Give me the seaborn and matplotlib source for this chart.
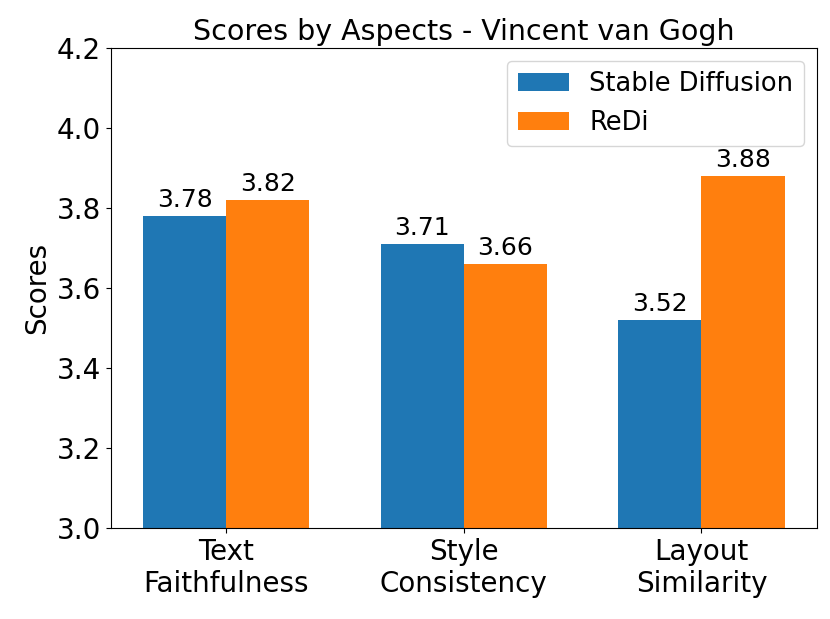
import pandas as pd
import seaborn as sns
import matplotlib.pyplot as plt

# data
aspects = ['Text\nFaithfulness', 'Style\nConsistency', 'Layout\nSimilarity']
sd_scores = [3.78, 3.71, 3.52]
redi_scores = [3.82, 3.66, 3.88]
methods = ['Stable Diffusion', 'ReDi']

df = pd.DataFrame({
    'aspect': aspects * 2,
    'score': sd_scores + redi_scores,
    'method': [methods[0]] * 3 + [methods[1]] * 3,
})

fig = plt.figure(figsize=(8.3, 6.19), dpi=100)
ax = fig.add_axes([0.1337, 0.147, 0.8503, 0.7755])

sns.barplot(data=df, x='aspect', y='score', hue='method',
            palette=['#1f77b4', '#ff7f0e'], saturation=1, width=0.7,
            errorbar=None, ax=ax)

for c in ax.containers:
    ax.bar_label(c, fmt='%.2f', padding=3, fontsize=18)

ax.set_ylim(3.0, 4.2)
ax.set_xlim(-0.485, 2.485)
ax.set_xlabel('')
ax.set_ylabel('Scores', fontsize=20)
ax.set_title('Scores by Aspects - Vincent van Gogh', fontsize=20.5)
ax.tick_params(axis='both', labelsize=20)

handles, labels = ax.get_legend_handles_labels()
ax.legend(handles, labels, fontsize=18.5, loc='upper right')

fig.savefig('out.png', dpi=100)
